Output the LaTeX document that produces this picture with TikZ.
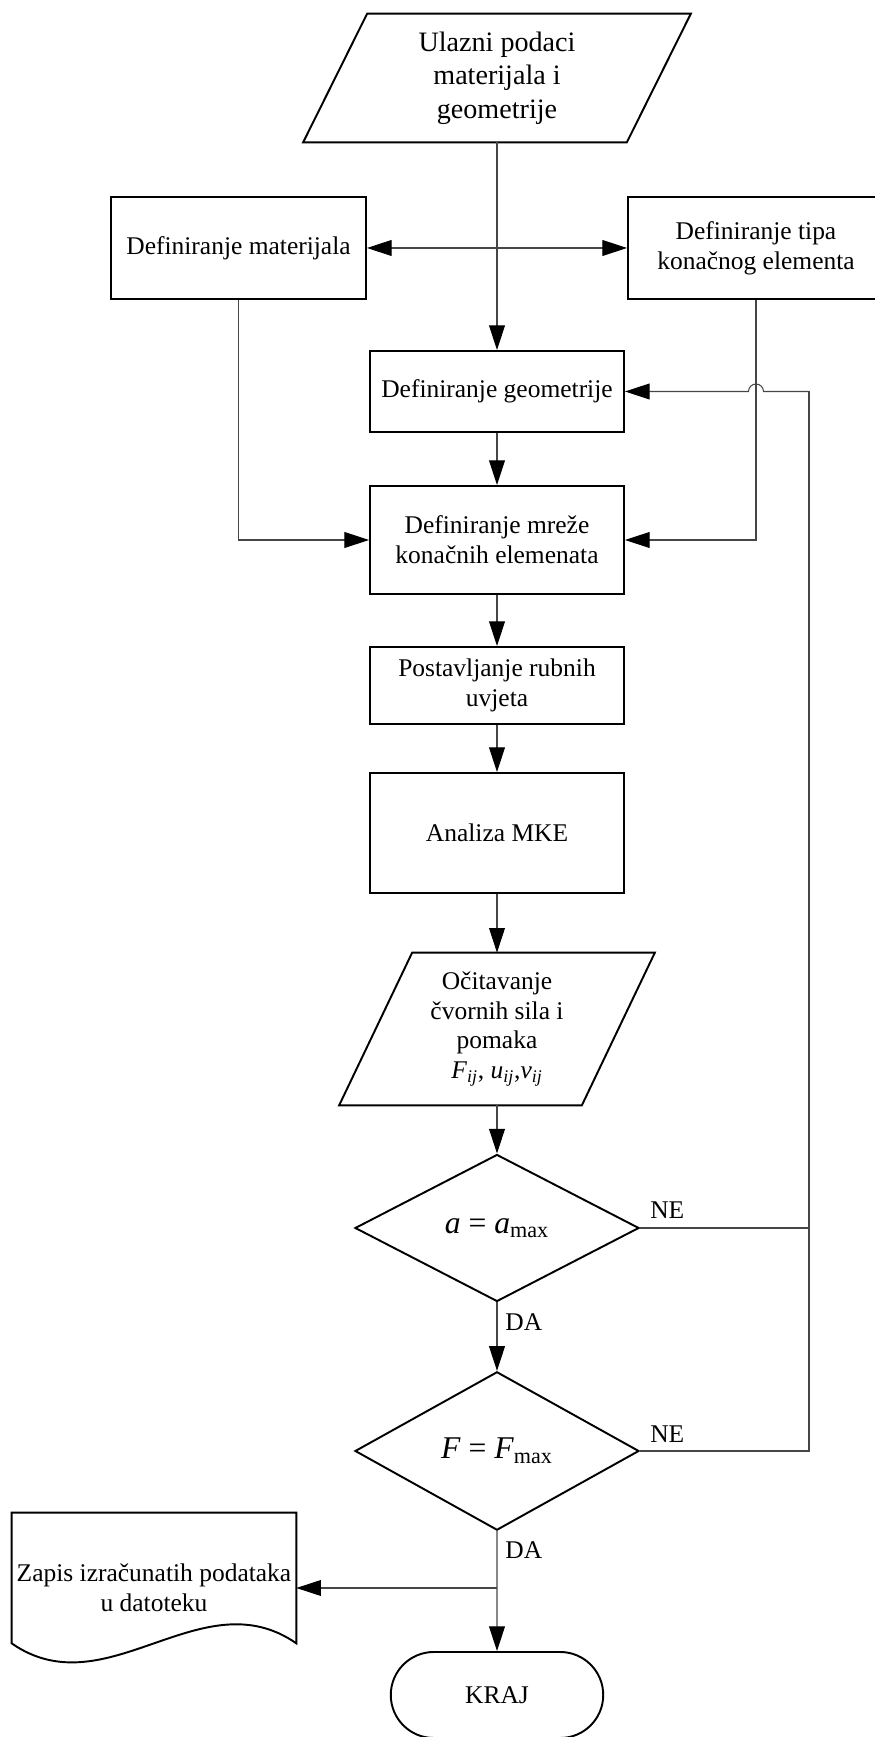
\documentclass[tikz,border=0pt]{standalone}
\usepackage{fontspec}
\setmainfont{Liberation Serif}
\usetikzlibrary{arrows.meta, positioning, shapes.geometric, shapes.misc}
\definecolor{wireGray}{RGB}{70,70,70}

\begin{document}
\begin{tikzpicture}[
  font=\fontsize{14.5}{17}\selectfont,
  box/.style={draw, line width=1.1pt, align=center, minimum width=5.08cm, inner sep=3pt},
  proc/.style={box, rectangle},
  io/.style={rectangle, align=center, inner sep=2pt},
  outline/.style={line width=1.1pt, line join=miter},
  decision/.style={box, diamond, minimum width=5.68cm, minimum height=2.94cm, font=\fontsize{18}{21}\selectfont},
  term/.style={box, rounded rectangle, minimum width=4.46cm, minimum height=1.72cm},
  wire/.style={line width=0.6pt, draw=wireGray},
  arr/.style={wire, -{Triangle[length=14pt, width=9pt, color=black]}},
  dbl/.style={wire, {Triangle[length=14pt, width=9pt, color=black]}-{Triangle[length=14pt, width=9pt, color=black]}},
  lbl/.style={inner sep=0pt}
]

\useasboundingbox (0,0) rectangle (17.5,34.74);
\clip (0,0) rectangle (17.5,34.74);

% input data (parallelogram drawn round the node)
\node[io, minimum width=6.46cm, minimum height=2.56cm, font=\fontsize{16}{19}\selectfont] (ulaz) at (9.94,33.18) {Ulazni podaci\\materijala i\\geometrije};
\draw[outline] ([xshift=0.64cm]ulaz.north west) -- ([xshift=0.64cm]ulaz.north east)
  -- ([xshift=-0.64cm]ulaz.south east) -- ([xshift=-0.64cm]ulaz.south west) -- cycle;

% Row 1: material / element type
\node[proc, minimum width=5.1cm, minimum height=2.04cm] (materijal) at (4.77,29.78) {Definiranje materijala};
\node[proc, minimum width=5.12cm, minimum height=2.04cm] (tip) at (15.12,29.78) {Definiranje tipa\\konačnog elementa};

% main column
\node[proc, minimum height=1.62cm] (geometrija) at (9.94,26.91) {Definiranje geometrije};
\node[proc, minimum height=2.16cm] (mreza) at (9.94,23.94) {Definiranje mreže\\konačnih elemenata};
\node[proc, minimum height=1.54cm] (rubni) at (9.94,21.03) {Postavljanje rubnih\\uvjeta};
\node[proc, minimum height=2.4cm] (analiza) at (9.94,18.08) {Analiza MKE};
\node[io, minimum width=4.84cm, minimum height=3.04cm] (ocitanje) at (9.94,14.16) {Očitavanje\\čvornih sila i\\pomaka\\\textit{F}\textsubscript{\textit{ij}}, \textit{u}\textsubscript{\textit{ij}},\textit{v}\textsubscript{\textit{ij}}};
\draw[outline] ([xshift=0.73cm]ocitanje.north west) -- ([xshift=0.73cm]ocitanje.north east)
  -- ([xshift=-0.73cm]ocitanje.south east) -- ([xshift=-0.73cm]ocitanje.south west) -- cycle;

% decisions
\node[decision] (uvjet1) at (9.94,10.18) {\textit{a} = \textit{a}\textsubscript{max}};
\node[decision] (uvjet2) at (9.94,5.72) {\textit{F} = \textit{F}\textsubscript{max}};

% output document + end
\node[minimum width=5.68cm, minimum height=3cm, inner xsep=1pt, align=center] (zapis) at (3.08,2.98) {Zapis izračunatih podataka\\u datoteku};
\draw[outline] (zapis.north west) -- ([yshift=4mm]zapis.south west)
  .. controls +(1.9,-1.32) and +(-1.9,1.32) .. ([yshift=4mm]zapis.south east)
  -- (zapis.north east) -- cycle;
\node[term] (kraj) at (9.94,0.84) {KRAJ};

\draw[arr] (ulaz) -- (geometrija);
\draw[dbl] (materijal) -- (tip);
\draw[arr] (materijal) |- (mreza);
\draw[arr] (tip) |- (mreza);
\draw[arr] (geometrija) -- (mreza);
\draw[arr] (mreza) -- (rubni);
\draw[arr] (rubni) -- (analiza);
\draw[arr] (analiza) -- (ocitanje);
\draw[arr] (ocitanje) -- (uvjet1);
\draw[arr] (uvjet1) -- (uvjet2);
\draw[arr] (uvjet2) -- (kraj);

\coordinate (grana) at (uvjet2.south |- zapis.east);
\draw[arr] (grana) -- (zapis.east);

% feedback loop (NE)
\coordinate (povrat) at (16.18,26.91);
\draw[wire] (uvjet2.east) -- (uvjet2.east -| povrat) -- (povrat);
\draw[wire] (uvjet1.east) -- (uvjet1.east -| povrat);
\draw[arr] (povrat) -- ([xshift=1.5mm]tip.south |- povrat) arc[start angle=0, end angle=180, radius=1.5mm] -- (geometrija.east);

% labels
\node[lbl, anchor=south west] (ne1) at ([xshift=2mm, yshift=1.8mm]uvjet1.east) {NE};
\node[lbl, anchor=south west] (ne2) at ([xshift=2mm, yshift=1.6mm]uvjet2.east) {NE};
\node[lbl, anchor=north west] (da1) at ([xshift=1.6mm, yshift=-2.2mm]uvjet1.south) {DA};
\node[lbl, anchor=north west] (da2) at ([xshift=1.6mm, yshift=-2mm]uvjet2.south) {DA};

\end{tikzpicture}
\end{document}
